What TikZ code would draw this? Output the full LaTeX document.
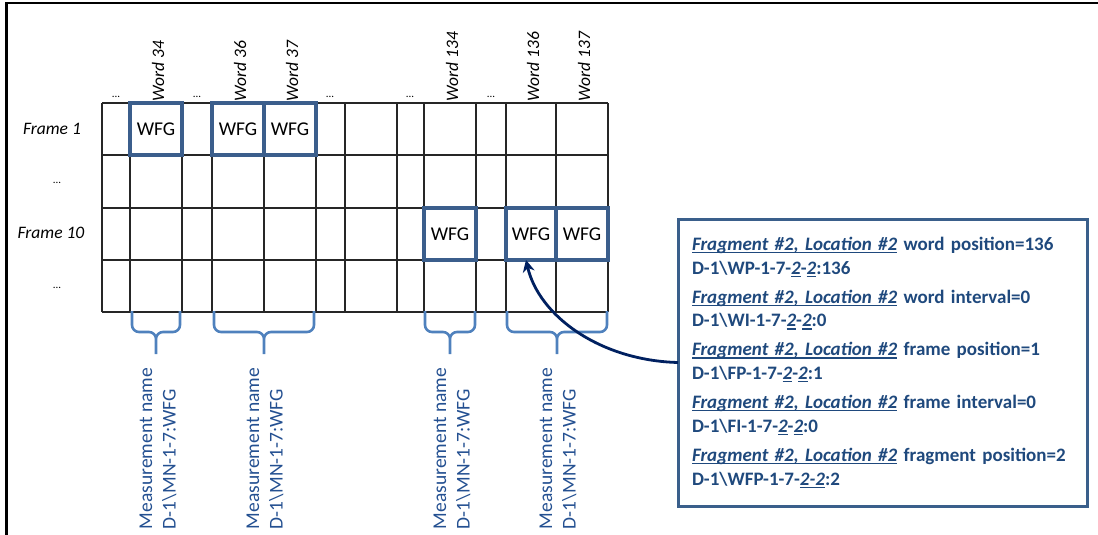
\documentclass[tikz,border=0pt]{standalone}
\usepackage{fontspec}
\setmainfont{Carlito}
\usetikzlibrary{arrows.meta}
\newcommand\undl[1]{\leavevmode\setbox0=\hbox{#1}\rlap{\rule[-2.8pt]{\wd0}{1.3pt}}\box0\relax}
\begin{document}
\begin{tikzpicture}[x=1pt,y=-1pt,every node/.style={inner sep=0pt, outer sep=0pt},
  lbl/.style={font=\fontsize{17.5}{20}\selectfont\itshape},
  wrd/.style={lbl, rotate=90, anchor=west},
  dots/.style={font=\fontsize{11}{13}\selectfont},
  wfg/.style={draw={rgb,255:red,59;green,94;blue,140}, line width=3.2pt, minimum width=52pt, minimum height=52pt, font=\fontsize{19.5}{23}\selectfont},
  brc/.style={draw={rgb,255:red,79;green,129;blue,189}, line width=2.6pt, rounded corners=7pt},
  msr/.style={rotate=90, anchor=west, align=left, text={rgb,255:red,36;green,80;blue,145}, font=\fontsize{19.5}{23.5}\selectfont},
  infobox/.style={draw={rgb,255:red,58;green,95;blue,139}, line width=3pt, fill=white, minimum width=409pt, minimum height=287pt, text width=381pt, inner xsep=14pt, align=left, text={rgb,255:red,31;green,73;blue,125}, font=\fontsize{19}{23.7}\selectfont\bfseries}]
\useasboundingbox (0,0) rectangle (1098,535);
\draw[line width=2.5pt] (6.7,535) -- (6.7,2.8) -- (1098,2.8);
\draw[line width=2pt, black!85] (102,103) -- (608,103) (102,155) -- (608,155) (102,208) -- (608,208) (102,260) -- (608,260) (102,312) -- (608,312)
  (102,103) -- (102,312) (130,103) -- (130,312) (182,103) -- (182,312) (212,103) -- (212,312) (264,103) -- (264,312) (316,103) -- (316,312) (345,103) -- (345,312)
  (397,103) -- (397,312) (424,103) -- (424,312) (476,103) -- (476,312) (506,103) -- (506,312) (556,103) -- (556,312) (608,103) -- (608,312);
\node[lbl] (f1) at (52,129) {Frame 1};
\node[dots] (f2) at (57,183) {...};
\node[lbl] (f10) at (51,233) {Frame 10};
\node[dots] (f11) at (57,288) {...};
\node[dots,anchor=base] (d1) at (116,97) {...};
\node[dots,anchor=base] (d2) at (197,97) {...};
\node[dots,anchor=base] (d3) at (330,97) {...};
\node[dots,anchor=base] (d4) at (410,97) {...};
\node[dots,anchor=base] (d5) at (491,97) {...};
\node[wrd] (l34) at (158,101) {Word 34};
\node[wrd] (l36) at (240,101) {Word 36};
\node[wrd] (l37) at (292,101) {Word 37};
\node[wrd] (l134) at (452,101) {Word 134};
\node[wrd] (l136) at (533,101) {Word 136};
\node[wrd] (l137) at (584,101) {Word 137};
\node[wfg] (w34) at (156,129) {WFG};
\node[wfg] (w36) at (238,129) {WFG};
\node[wfg] (w37) at (290,129) {WFG};
\node[wfg] (w134) at (450,234) {WFG};
\node[wfg,minimum width=50pt] (w136) at (531,234) {WFG};
\node[wfg] (w137) at (582,234) {WFG};
\draw[brc] (132,311) -- (132,332) -- (156,332) -- (156,354) (180,311) -- (180,332) -- (156,332) -- (156,354);
\draw[brc] (214,311) -- (214,332) -- (264,332) -- (264,354) (314,311) -- (314,332) -- (264,332) -- (264,354);
\draw[brc] (425,311) -- (425,332) -- (450,332) -- (450,354) (475,311) -- (475,332) -- (450,332) -- (450,354);
\draw[brc] (507,311) -- (507,332) -- (557,332) -- (557,354) (607,311) -- (607,332) -- (557,332) -- (557,354);
\node[msr] (m1) at (158,529) {Measurement name\\D-1\textbackslash MN-1-7:WFG};
\node[msr] (m2) at (265,529) {Measurement name\\D-1\textbackslash MN-1-7:WFG};
\node[msr] (m3) at (452,529) {Measurement name\\D-1\textbackslash MN-1-7:WFG};
\node[msr] (m4) at (558,529) {Measurement name\\D-1\textbackslash MN-1-7:WFG};
\node[infobox] (info) at (882.5,362.5) {\mbox{\undl{\textit{Fragment \#2, Location \#2}} word position=136}\\
D-1\textbackslash WP-1-7-\undl{\textit{2}}-\undl{\textit{2}}:136\\[5.3pt]
\mbox{\undl{\textit{Fragment \#2, Location \#2}} word interval=0}\\
D-1\textbackslash WI-1-7-\undl{\textit{2}}-\undl{\textit{2}}:0\\[5.3pt]
\mbox{\undl{\textit{Fragment \#2, Location \#2}} frame position=1}\\
D-1\textbackslash FP-1-7-\undl{\textit{2}}-\undl{\textit{2}}:1\\[5.3pt]
\mbox{\undl{\textit{Fragment \#2, Location \#2}} frame interval=0}\\
D-1\textbackslash FI-1-7-\undl{\textit{2}}-\undl{\textit{2}}:0\\[5.3pt]
\mbox{\undl{\textit{Fragment \#2, Location \#2}} fragment position=2}\\
D-1\textbackslash WFP-1-7-\undl{\textit{2-2}}:2};
\draw[-{Stealth[length=12pt,width=12pt]}, line width=2.8pt, draw={rgb,255:red,0;green,32;blue,96}] (info.west) .. controls +(-78,-2) and +(13,56) .. ([xshift=-5pt]w136.south);
\end{tikzpicture}
\end{document}
